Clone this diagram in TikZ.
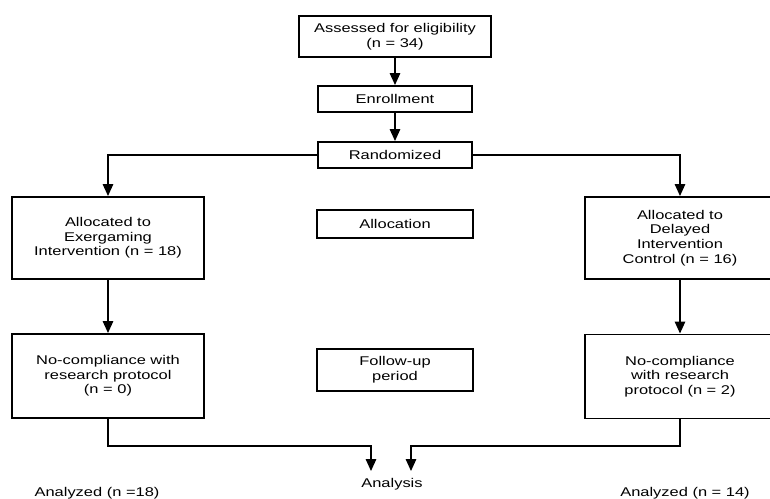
\documentclass[tikz,border=0pt]{standalone}
\usepackage{fontspec}
\setmainfont[FakeStretch=1.3]{Liberation Sans}
\usetikzlibrary{arrows.meta}

\begin{document}
\begin{tikzpicture}[x=0.025cm, y=-0.025cm, >={Triangle[width=7.5pt,length=8.5pt]},
  every node/.style={font=\fontsize{9}{10.4}\selectfont, align=center},
  box/.style={draw, line width=1.4pt, inner sep=0pt},
  link/.style={line width=0.9pt}]
  \useasboundingbox (0,0) rectangle (770,499);
  \node[box, minimum width=4.775cm, minimum height=1.025cm] (assess) at (395,36.5) {Assessed for eligibility\\(n = 34)};
  \node[box, minimum width=3.825cm, minimum height=0.65cm] (enroll) at (395,99) {Enrollment};
  \node[box, minimum width=3.825cm, minimum height=0.65cm] (rand) at (395,155) {Randomized};
  \node[box, minimum width=3.875cm, minimum height=0.7cm] (alloc) at (395,224) {Allocation};
  \node[box, minimum width=3.875cm, minimum height=1.05cm] (follow) at (395,370) {Follow-up\\period};
  \node[box, minimum width=4.8cm, minimum height=2.05cm] (exer) at (108,238) {Allocated to\\Exergaming\\Intervention (n = 18)};
  \node[box, minimum width=4.75cm, minimum height=2.05cm] (delay) at (680,238) {Allocated to\\Delayed\\Intervention\\Control (n = 16)};
  \node[box, minimum width=4.8cm, minimum height=2.1cm] (ncl) at (108,376) {No-compliance with\\research protocol\\(n = 0)};
  \node[box, minimum width=4.75cm, minimum height=2.1cm] (ncr) at (680,376.5) {No-compliance\\with research\\protocol (n = 2)};
  \node (ana) at (392,484) {Analysis};
  \node (anl) at (97,493) {Analyzed (n =18)};
  \node (anr) at (685,493) {Analyzed (n = 14)};
  \coordinate (midL) at (371,446);
  \coordinate (tipL) at (371,471);
  \coordinate (midR) at (411,446);
  \coordinate (tipR) at (411,471);
  \draw[link,->] (assess) -- (enroll);
  \draw[link,->] (enroll) -- (rand);
  \draw[link,->] (rand.west) -| (exer.north);
  \draw[link,->] (rand.east) -| (delay.north);
  \draw[link,->] (exer) -- (ncl);
  \draw[link,->] (delay) -- (ncr);
  \draw[link,->] (ncl.south) |- (midL) -- (tipL);
  \draw[link,->] (ncr.south) |- (midR) -- (tipR);
\end{tikzpicture}
\end{document}
